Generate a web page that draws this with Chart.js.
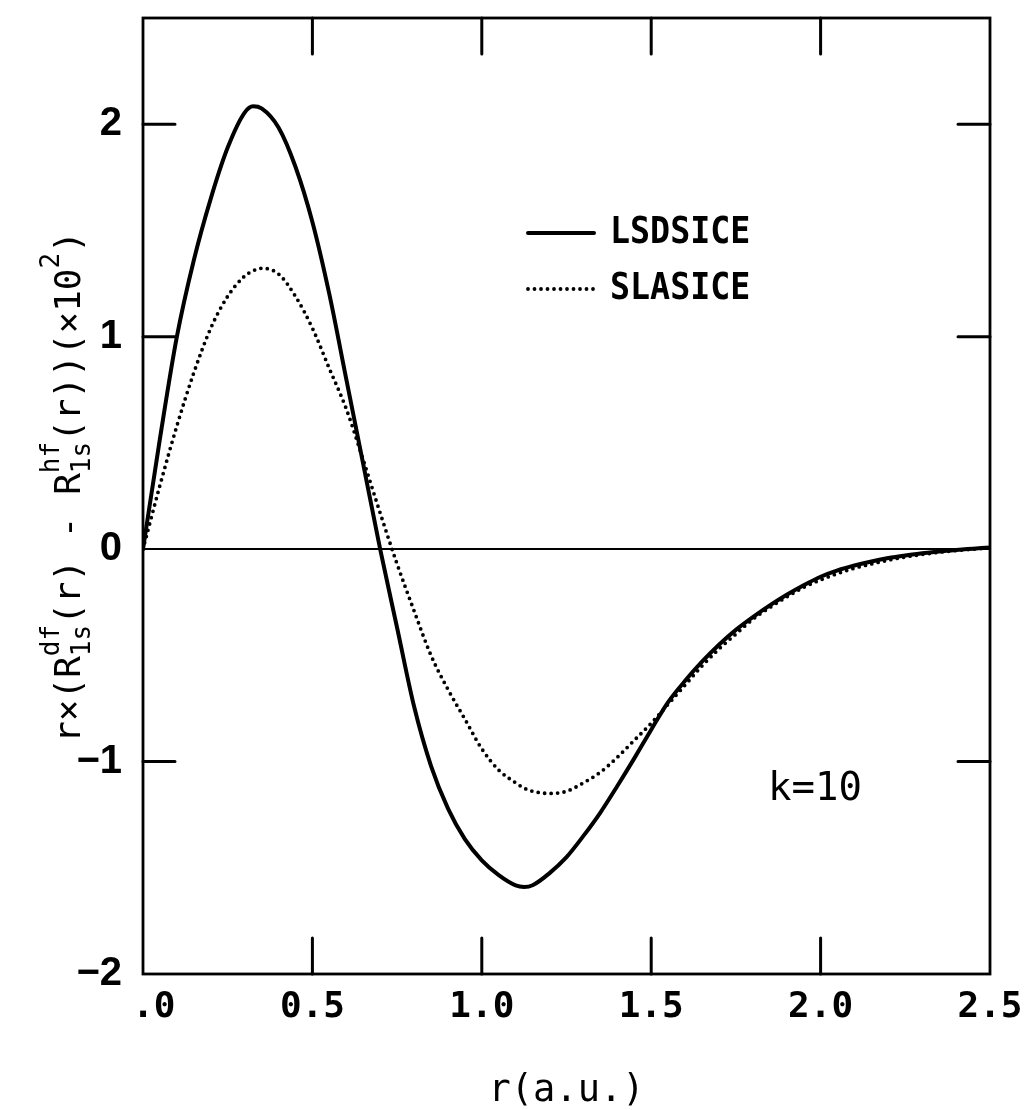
<!DOCTYPE html>
<html>
<head>
<meta charset="utf-8">
<script src="https://cdn.jsdelivr.net/npm/chart.js@4.4.1/dist/chart.umd.min.js"></script>
<style>
  html, body { margin: 0; padding: 0; background: #fff; }
</style>
</head>
<body>
<canvas id="myChart" width="1031" height="1110"></canvas>
<script>
//data
const rValues = [0.00, 0.05, 0.10, 0.15, 0.20, 0.25, 0.30, 0.325, 0.35, 0.40, 0.45,
                 0.50, 0.55, 0.60, 0.65, 0.70, 0.75, 0.80, 0.85, 0.90, 0.95,
                 1.00, 1.05, 1.10, 1.125, 1.15, 1.20, 1.25, 1.30, 1.35, 1.40, 1.45,
                 1.50, 1.55, 1.60, 1.65, 1.70, 1.75, 1.80, 1.85, 1.90, 1.95,
                 2.00, 2.05, 2.10, 2.15, 2.20, 2.25, 2.30, 2.35, 2.40, 2.45, 2.50];

const lsdsice = [0.00, 0.52, 1.00, 1.36, 1.65, 1.89, 2.055, 2.085, 2.075, 1.985, 1.80,
                 1.54, 1.20, 0.80, 0.40, 0.00, -0.37, -0.74, -1.02, -1.22, -1.365,
                 -1.465, -1.535, -1.583, -1.59, -1.582, -1.525, -1.45, -1.35, -1.24, -1.115, -0.985,
                 -0.85, -0.72, -0.62, -0.53, -0.45, -0.38, -0.32, -0.265, -0.215, -0.17,
                 -0.13, -0.10, -0.077, -0.058, -0.042, -0.03, -0.02, -0.011, -0.004, 0.002, 0.008];

const slasice = [0.00, 0.30, 0.58, 0.83, 1.04, 1.19, 1.285, 1.31, 1.322, 1.295, 1.19,
                 1.04, 0.85, 0.66, 0.42, 0.17, -0.07, -0.29, -0.50, -0.66, -0.80,
                 -0.94, -1.04, -1.10, -1.125, -1.14, -1.15, -1.14, -1.10, -1.05, -0.98, -0.90,
                 -0.82, -0.73, -0.64, -0.55, -0.47, -0.40, -0.33, -0.275, -0.225, -0.18,
                 -0.145, -0.115, -0.09, -0.07, -0.052, -0.037, -0.025, -0.015, -0.007, 0.000, 0.006];

const seriesNames = ['LSDSICE', 'SLASICE'];

const xTicks = [0, 0.5, 1.0, 1.5, 2.0, 2.5];
const xTickLabels = ['.0', '0.5', '1.0', '1.5', '2.0', '2.5'];
const yTicks = [-2, -1, 0, 1, 2];
const yTickLabels = ['\u22122', '\u22121', '0', '1', '2'];

const innerXTicks = [0.5, 1.0, 1.5, 2.0];
const innerYTicks = [-1, 1, 2];

const xTitle = 'r(a.u.)';
const noteText = 'k=10';

const mono = '"DejaVu Sans Mono", monospace';

function toPoints(values) {
    return rValues.map((r, i) => ({ x: r, y: values[i] }));
}

// boxed frame with inward ticks on all four sides
const frameTicks = {
    id: 'frameTicks',
    afterDatasetsDraw(chart) {
        const { ctx, chartArea: a, scales: { x, y } } = chart;
        ctx.save();
        ctx.strokeStyle = '#000';
        ctx.lineWidth = 2.8;
        ctx.strokeRect(a.left, a.top, a.right - a.left, a.bottom - a.top);
        ctx.lineWidth = 3;
        ctx.lineCap = 'round';
        ctx.beginPath();
        innerXTicks.forEach(v => {
            const px = x.getPixelForValue(v);
            ctx.moveTo(px, a.bottom); ctx.lineTo(px, a.bottom - 36);
            ctx.moveTo(px, a.top); ctx.lineTo(px, a.top + 36);
        });
        innerYTicks.forEach(v => {
            const py = y.getPixelForValue(v);
            ctx.moveTo(a.left, py); ctx.lineTo(a.left + 32, py);
            ctx.moveTo(a.right, py); ctx.lineTo(a.right - 32, py);
        });
        ctx.stroke();
        ctx.restore();
    }
};

// legend drawn inside the plot, styles taken from the datasets
const innerLegend = {
    id: 'innerLegend',
    afterDraw(chart) {
        const { ctx } = chart;
        ctx.save();
        chart.data.datasets.forEach((ds, i) => {
            const yy = 233 + i * 56;
            ctx.strokeStyle = ds.borderColor;
            ctx.lineWidth = ds.borderWidth;
            ctx.lineCap = ds.borderCapStyle || 'butt';
            ctx.setLineDash(ds.borderDash || []);
            ctx.beginPath();
            ctx.moveTo(528, yy);
            ctx.lineTo(594, yy);
            ctx.stroke();
            ctx.setLineDash([]);
            ctx.fillStyle = '#000';
            ctx.font = 'bold 37px ' + mono;
            ctx.textBaseline = 'middle';
            ctx.textAlign = 'left';
            ctx.save();
            ctx.translate(610, yy);
            ctx.scale(0.9, 1);
            ctx.fillText(ds.label, 0, 0);
            ctx.restore();
        });
        ctx.font = '39px ' + mono;
        ctx.textAlign = 'center';
        ctx.textBaseline = 'middle';
        ctx.fillText(noteText, 815, 790);
        ctx.restore();
    }
};

// rotated y title with stacked sub/superscripts
const yTitle = {
    id: 'yTitle',
    afterDraw(chart) {
        const { ctx } = chart;
        const big = '36px ' + mono;
        const small = '26px ' + mono;
        const parts = [
            { t: 'r\u00d7(R' },
            { sup: 'df', sub: '1s' },
            { t: '(r) - R' },
            { sup: 'hf', sub: '1s' },
            { t: '(r))(\u00d710' },
            { sup: '2' },
            { t: ')' }
        ];
        ctx.save();
        const widthOf = p => {
            if (p.t) { ctx.font = big; return ctx.measureText(p.t).width; }
            ctx.font = small;
            return Math.max(ctx.measureText(p.sup || '').width, ctx.measureText(p.sub || '').width);
        };
        const total = parts.reduce((s, p) => s + widthOf(p), 0);
        ctx.translate(80, 487);
        ctx.rotate(-Math.PI / 2);
        ctx.fillStyle = '#000';
        ctx.textBaseline = 'alphabetic';
        ctx.textAlign = 'left';
        let u = -total / 2;
        parts.forEach(p => {
            const w = widthOf(p);
            if (p.t) {
                ctx.font = big;
                ctx.fillText(p.t, u, 0);
            } else {
                ctx.font = small;
                if (p.sup) ctx.fillText(p.sup, u, -21);
                if (p.sub) ctx.fillText(p.sub, u, 10);
            }
            u += w;
        });
        ctx.restore();
    }
};

const ctx = document.getElementById('myChart').getContext('2d');
const chart = new Chart(ctx, {
    type: 'line',
    data: {
        datasets: [
            {
                label: seriesNames[0],
                data: toPoints(lsdsice),
                borderColor: '#000',
                borderWidth: 4,
                borderCapStyle: 'round',
                pointRadius: 0,
                cubicInterpolationMode: 'monotone',
                fill: false
            },
            {
                label: seriesNames[1],
                data: toPoints(slasice),
                borderColor: '#000',
                borderWidth: 3.8,
                borderDash: [0, 6.5],
                borderCapStyle: 'round',
                pointRadius: 0,
                cubicInterpolationMode: 'monotone',
                fill: false
            }
        ]
    },
    options: {
        responsive: false,
        animation: false,
        layout: { padding: { top: 18, right: 41, left: 0, bottom: 0 } },
        plugins: {
            legend: { display: false },
            tooltip: { enabled: false }
        },
        scales: {
            x: {
                type: 'linear', min: 0, max: 2.5,
                afterBuildTicks: s => { s.ticks = xTicks.map(v => ({ value: v })); },
                afterFit: s => { s.height = 136; s.paddingLeft = 0; s.paddingRight = 0; },
                grid: { display: false, drawTicks: false },
                border: { display: false },
                ticks: {
                    color: '#000', padding: 12, maxRotation: 0, autoSkip: false,
                    font: { family: mono, size: 36, weight: 'bold', lineHeight: 1.2 },
                    // keep the decimal point of ".0" over its tick
                    callback: (v, i) => xTickLabels[i].padStart(3, ' ')
                },
                title: {
                    display: true, text: xTitle, color: '#000',
                    font: { family: mono, size: 37, lineHeight: 1 },
                    padding: { top: 0, bottom: 0 }
                }
            },
            y: {
                type: 'linear', min: -2, max: 2.5,
                afterBuildTicks: s => { s.ticks = yTicks.map(v => ({ value: v })); },
                afterFit: s => { s.width = 143; s.paddingTop = 0; s.paddingBottom = 0; },
                grid: {
                    drawTicks: false,
                    lineWidth: 2,
                    color: c => (c.tick && c.tick.value === 0) ? '#000' : 'rgba(0,0,0,0)'
                },
                border: { display: false },
                ticks: {
                    color: '#000', padding: 21, autoSkip: false,
                    font: { family: '"Liberation Sans", Arial, sans-serif', size: 40, weight: 'bold' },
                    callback: (v, i) => yTickLabels[i]
                }
            }
        }
    },
    plugins: [frameTicks, innerLegend, yTitle]
});
</script>
</body>
</html>
